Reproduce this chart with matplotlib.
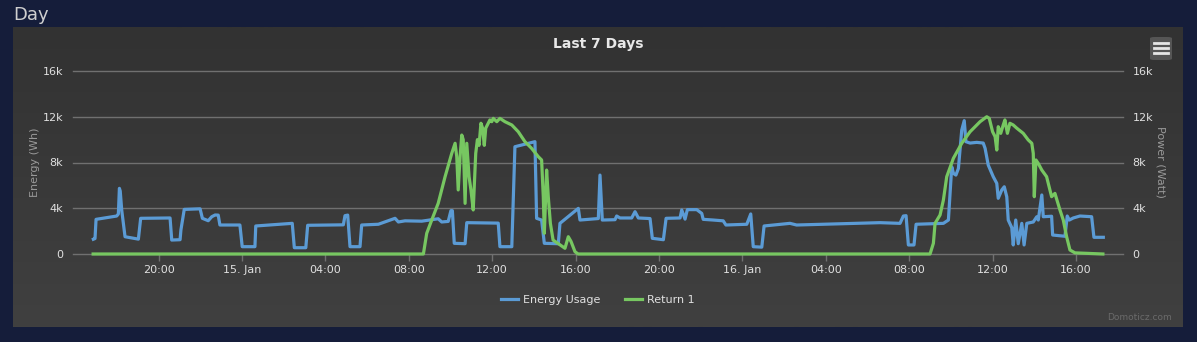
import matplotlib
matplotlib.use("Agg")
import matplotlib.pyplot as plt
import numpy as np
from matplotlib.patches import FancyBboxPatch

# ---------------- data (hours since 14 Jan 00:00, watts) ----------------
usage_hours = [16.87, 16.95, 17.00, 17.99, 18.07, 18.12, 18.16, 18.23, 18.39, 19.03, 19.14,
               20.55, 20.63, 21.03, 21.07, 21.23, 21.99, 22.10, 22.38, 22.55, 22.71, 22.86,
               22.94, 23.90, 24.01, 24.62, 24.66, 26.41, 26.51, 27.06, 27.15, 28.86, 28.94,
               29.07, 29.18, 29.66, 29.74, 30.54, 31.34, 31.50, 31.82, 32.62, 33.41, 33.58,
               33.89, 34.02, 34.09, 34.18, 34.70, 34.78, 36.29, 36.37, 36.94, 37.09, 38.05,
               38.13, 38.37, 38.50, 39.17, 39.25, 40.13, 40.21, 41.09, 41.17, 41.28, 41.89,
               41.97, 42.13, 42.69, 42.85, 43.01, 43.57, 43.68, 44.21, 44.34, 45.01, 45.09,
               45.25, 45.36, 45.81, 46.05, 46.12, 46.60, 47.08, 47.21, 48.21, 48.40, 48.52,
               48.93, 49.04, 50.28, 50.60, 54.60, 55.56, 55.72, 55.85, 55.96, 56.23, 56.33,
               57.64, 57.88, 58.04, 58.12, 58.24, 58.36, 58.52, 58.64, 58.72, 58.92, 59.24,
               59.55, 59.64, 59.79, 60.03, 60.20, 60.27, 60.44, 60.56, 60.68, 60.75, 60.92,
               60.99, 61.11, 61.23, 61.40, 61.51, 61.64, 61.95, 62.12, 62.19, 62.36, 62.43,
               62.83, 62.88, 63.47, 63.58, 63.68, 63.87, 64.19, 64.75, 64.86, 65.31]
usage_watts = [1290, 1350, 3030, 3320, 3500, 5740, 5500, 3850, 1510, 1300, 3120,
               3150, 1220, 1250, 2100, 3900, 3950, 3120, 2910, 3260, 3410, 3400,
               2535, 2535, 640, 640, 2450, 2680, 550, 550, 2510, 2550, 3350,
               3400, 640, 640, 2535, 2600, 3120, 2800, 2900, 2870, 3080, 2800,
               2850, 3790, 3790, 935, 900, 2740, 2700, 640, 640, 9380, 9820,
               3120, 2970, 935, 900, 2680, 3990, 2970, 3100, 6900, 2970, 3000,
               3320, 3150, 3150, 3700, 3150, 3100, 1370, 1250, 3120, 3150, 3850,
               3050, 3880, 3880, 3550, 3030, 2970, 2900, 2535, 2600, 3500, 640,
               600, 2450, 2680, 2535, 2740, 2680, 3320, 3350, 790, 790, 2600,
               2680, 2970, 7630, 7050, 6900, 7480, 10840, 11660, 9820, 9700, 9760,
               9700, 9240, 7780, 6760, 6180, 4870, 5600, 5880, 5000, 2970, 2300,
               790, 2970, 900, 2680, 790, 2680, 2800, 3260, 2970, 5160, 3260,
               3300, 1660, 1550, 3320, 2970, 3150, 3320, 3260, 1460, 1460]

return_hours = [16.86, 32.70, 32.86, 33.10, 33.41, 33.74, 34.06, 34.22, 34.30, 34.37, 34.46,
                34.54, 34.61, 34.70, 34.78, 34.89, 34.98, 35.09, 35.21, 35.29, 35.37, 35.46,
                35.54, 35.62, 35.69, 35.89, 35.98, 36.05, 36.22, 36.37, 36.61, 36.94, 37.25,
                37.57, 37.89, 38.21, 38.37, 38.45, 38.50, 38.61, 38.69, 38.79, 38.92, 39.49,
                39.65, 39.78, 39.97, 40.12, 57.00, 57.16, 57.24, 57.48, 57.64, 57.80, 58.12,
                58.52, 58.92, 59.40, 59.72, 59.84, 60.00, 60.12, 60.20, 60.27, 60.39, 60.51,
                60.59, 60.71, 60.83, 60.99, 61.16, 61.47, 61.71, 61.88, 61.95, 62.00, 62.08,
                62.19, 62.36, 62.59, 62.83, 62.99, 63.23, 63.39, 63.55, 63.71, 63.95, 65.29]
return_watts = [0, 0, 1810, 2970, 4430, 6760, 8800, 9680, 8500, 5600, 8500,
                10400, 10000, 4430, 9680, 6760, 5600, 3850, 8800, 10000, 9500, 11430,
                11000, 9500, 11000, 11720, 11570, 11860, 11570, 11860, 11570, 11280, 10690,
                9820, 9240, 8510, 8220, 5000, 1810, 7340, 5000, 2680, 1220, 500,
                1510, 1100, 200, 0, 0, 935, 2680, 3410, 4720, 6760, 8370,
                9680, 10690, 11570, 12000, 11860, 10690, 10260, 9090, 11130, 10550, 11280,
                11720, 10550, 11430, 11280, 11000, 10550, 9970, 9680, 8800, 5010, 8220,
                7920, 7340, 6760, 5010, 5300, 3850, 2970, 1510, 350, 100, 0]

tick_hours = [20, 24, 28, 32, 36, 40, 44, 48, 52, 56, 60, 64]
tick_labels = ["20:00", "15. Jan", "04:00", "08:00", "12:00", "16:00",
               "20:00", "16. Jan", "04:00", "08:00", "12:00", "16:00"]
y_ticks = [0, 4000, 8000, 12000, 16000]
y_labels = ["0", "4k", "8k", "12k", "16k"]

# ---------------- figure ----------------
W, H = 1197, 342
fig = plt.figure(figsize=(W / 100, H / 100), dpi=100)
fig.patch.set_facecolor("#151d3a")

def fx(px):
    return px / W

def fy(py):
    return 1 - py / H

# panel with subtle gradient
pl, pr, pt, pb = 13, 1183, 27, 327
bg = fig.add_axes([fx(pl), fy(pb), fx(pr - pl), (pb - pt) / H])
grad = np.linspace(0, 1, 256).reshape(-1, 1)
from matplotlib.colors import LinearSegmentedColormap
cmap = LinearSegmentedColormap.from_list("g", ["#323232", "#404040"])
bg.imshow(grad, aspect="auto", cmap=cmap, extent=[0, 1, 1, 0])
bg.set_xlim(0, 1)
bg.set_ylim(1, 0)
bg.axis("off")

# main plot area
left, right, top, bottom = 73, 1123, 71, 254
ax = fig.add_axes([fx(left), fy(bottom), fx(right - left), (bottom - top) / H])
ax.patch.set_alpha(0)
xmin = 24 + (left - 242) / 20.85
xmax = 24 + (right - 242) / 20.85
ax.set_xlim(xmin, xmax)
ax.set_ylim(0, 16000)

for v in y_ticks:
    ax.axhline(v, color="#707070", lw=1.0, zorder=1, clip_on=False)

ax.plot(usage_hours, usage_watts, color="#5b9bd5", lw=2.3, solid_joinstyle="round",
        label="Energy Usage", zorder=3, clip_on=False)
ax.plot(return_hours, return_watts, color="#77c761", lw=2.3, solid_joinstyle="round",
        label="Return 1", zorder=4, clip_on=False)

for s in ax.spines.values():
    s.set_visible(False)

ax.set_xticks(tick_hours)
ax.set_xticklabels(tick_labels)
ax.tick_params(axis="x", colors="#707070", length=5, width=1, labelcolor="#e0e0e0",
               labelsize=8, pad=3)
ax.set_yticks(y_ticks)
ax.set_yticklabels(y_labels)
ax.tick_params(axis="y", length=0, labelcolor="#e0e0e0", labelsize=8, pad=7)

ax2 = ax.twinx()
ax2.set_ylim(0, 16000)
ax2.set_yticks(y_ticks)
ax2.set_yticklabels(y_labels)
ax2.tick_params(axis="y", length=0, labelcolor="#e0e0e0", labelsize=8, pad=7)
for s in ax2.spines.values():
    s.set_visible(False)

fig.text(fx(35), fy(162), "Energy (Wh)", rotation=90, ha="center", va="center",
         color="#999999", fontsize=8)
fig.text(fx(1161), fy(162), "Power (Watt)", rotation=270, ha="center", va="center",
         color="#999999", fontsize=8)

# titles
fig.text(fx(13), fy(15), "Day", ha="left", va="center", color="#cfcfcf", fontsize=13)
fig.text(fx(598), fy(44), "Last 7 Days", ha="center", va="center", color="#e8e8e8",
         fontsize=10, fontweight="bold")

# legend
leg = fig.legend(loc="center", bbox_to_anchor=(fx(598), fy(300)), ncol=2, frameon=False,
                 fontsize=8, handlelength=1.5, handletextpad=0.5, columnspacing=2.2)
for t in leg.get_texts():
    t.set_color("#e0e0e0")

fig.text(fx(1172), fy(318), "Domoticz.com", ha="right", va="center", color="#6a6a6a",
         fontsize=6.5)

# menu button
btn = FancyBboxPatch((fx(1150), fy(60)), fx(22), (23) / H,
                     boxstyle="round,pad=0,rounding_size=0.004",
                     transform=fig.transFigure, facecolor="#555555", edgecolor="none")
fig.patches.append(btn)
for yy in (43, 48, 53):
    fig.lines.append(plt.Line2D([fx(1154), fx(1168)], [fy(yy), fy(yy)],
                                transform=fig.transFigure, color="#e6e6e6", lw=2.0))

fig.savefig("out.png", dpi=100, facecolor=fig.get_facecolor())
